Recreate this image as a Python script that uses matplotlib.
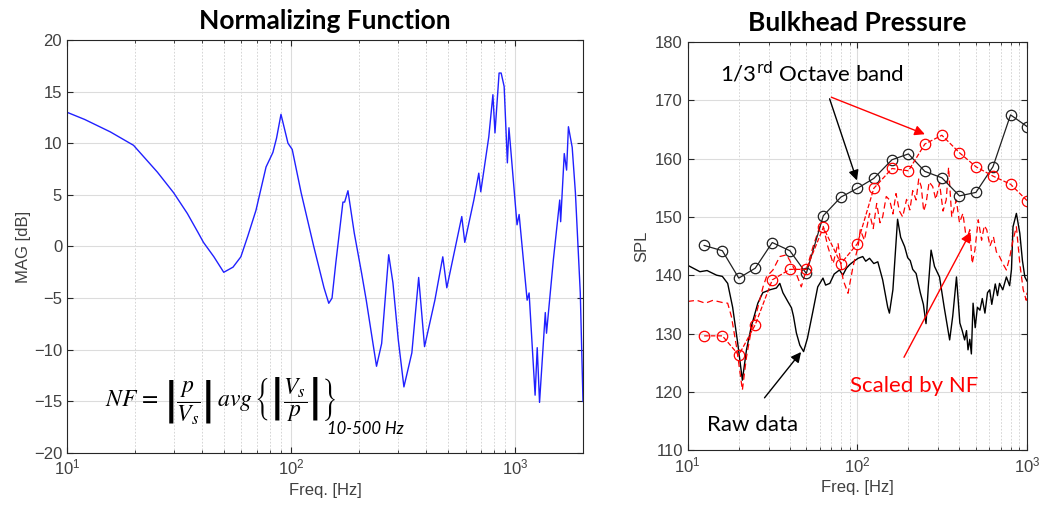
import numpy as np
import matplotlib
matplotlib.use('Agg')
import matplotlib.pyplot as plt

# Normalizing function (left)
nf_freq = [10, 12, 15.6, 19.8, 25.3, 29.9, 34.4, 38.3, 40.6, 45.2, 50, 55, 59.6, 64, 69.6, 77.2,
           82.8, 86, 90, 96.7, 101, 110.7, 126, 140, 147, 152, 158, 170, 173, 179, 191, 206,
           216, 240, 253, 272, 284, 300, 318, 345, 370, 393, 437, 474, 494, 576, 594, 652,
           686, 700, 760, 793, 810, 845, 863, 890, 920, 935, 1016, 1038, 1127, 1150, 1223,
           1250, 1280, 1358, 1375, 1475, 1575, 1590, 1650, 1690, 1722, 1790, 1850, 1945, 2000]
nf_mag = [13.0, 12.3, 11.1, 9.8, 7.2, 5.2, 3.2, 1.4, 0.4, -1.0, -2.5, -2.0, -1.0, 1.0, 3.5, 7.7,
          9.1, 10.5, 12.8, 10.0, 9.4, 5.2, 0.0, -4.0, -5.5, -5.0, -1.6, 4.3, 4.3, 5.4, 1.3, -2.6,
          -5.2, -11.6, -9.4, -0.8, -3.5, -9.0, -13.6, -10.3, -3.0, -9.7, -5.2, -1.0, -4.0, 2.9, 0.4, 4.5,
          7.1, 5.3, 10.6, 14.7, 11.0, 16.8, 16.8, 15.5, 8.1, 11.5, 2.1, 3.1, -5.2, -4.5, -14.4,
          -9.8, -15.1, -6.4, -8.4, -1.3, 4.5, 2.4, 9.0, 7.4, 11.6, 9.6, 5.2, -4.5, -15.0]

# 1/3 octave bands (right)
oct_freq = [12.5, 16, 20, 25, 31.5, 40, 50, 63, 80, 100, 125, 160, 200, 250, 315, 400, 500, 630, 800, 1000]
oct_raw = [145.1, 144.2, 139.5, 141.2, 145.6, 144.2, 140.3, 150.2, 153.4, 154.9, 156.6, 159.8,
           160.8, 157.8, 156.7, 153.6, 154.2, 158.6, 167.5, 165.5]
oct_scaled = [129.6, 129.6, 126.3, 131.5, 139.2, 141.0, 141.0, 148.2, 142.0, 145.4, 154.9, 158.3,
              157.9, 162.5, 164.0, 161.0, 158.6, 157.0, 155.6, 152.8]

# narrowband raw data
raw_freq = [10, 11.8, 13, 14.8, 16, 17.2, 18.4, 19.7, 21.0, 22.2, 23.7, 25.9, 27.7, 30.5, 33.3,
            34.9, 36.4, 38.9, 40.9, 42, 43.7, 45.8, 48.2, 50.8, 54.6, 58.4, 62.7, 65, 68.8, 73,
            78.5, 82, 86.2, 90, 94.5, 101, 107.6, 112, 118, 125, 132, 141, 151, 154.5, 162, 172.6,
            180, 190, 198, 205, 212, 222, 235, 245, 254, 262, 272, 285, 305, 325, 350, 365, 384,
            402, 415, 429, 440, 449, 460, 470, 481, 495, 510, 528, 545, 565, 585, 603, 620, 650,
            670, 689, 720, 756, 790, 810, 827, 866, 907, 940, 971, 1000]
raw_spl = [141.7, 140.6, 140.8, 140.0, 139.8, 138.6, 134.5, 128.4, 122.0, 127.2, 131.2, 135.2, 137.0,
           137.5, 137.8, 138.6, 137.0, 135.5, 134.4, 133.0, 130.1, 128.0, 126.9, 129.2, 133.7, 138.0,
           139.5, 138.3, 138.6, 140.2, 140.9, 140.0, 141.2, 141.8, 142.3, 142.9, 143.2, 142.4, 142.9,
           142.0, 142.3, 139.2, 134.5, 133.5, 137.5, 149.6, 146.5, 144.9, 143.0, 142.5, 141.0, 140.3,
           137.0, 135.0, 131.7, 138.0, 144.3, 141.5, 139.7, 134.5, 128.9, 133.0, 139.7, 131.8, 130.5,
           128.9, 130.5, 127.2, 129.0, 126.5, 135.2, 131.0, 134.5, 134.0, 136.0, 133.5, 137.0, 137.5,
           135.0, 138.5, 136.5, 138.6, 137.5, 139.7, 138.2, 141.0, 148.3, 150.6, 147.2, 142.5, 139.7,
           139.0]

# narrowband scaled by NF
scl_freq = [10, 11.3, 12.7, 14.1, 16.1, 17.2, 18.1, 19.4, 21.0, 22.2, 23.7, 25.4, 27.8, 29.1, 31.8,
            34.9, 38.3, 42.8, 46.7, 50.0, 54.8, 60, 62.7, 67.0, 72, 76.9, 82.4, 88.1, 94.3, 101,
            104, 110, 118, 124, 130, 136, 141, 148, 155, 162, 169, 177, 185, 195, 204, 212, 222,
            230, 238, 246, 254, 265, 278, 290, 305, 320, 334, 345, 360, 383, 400, 419, 440, 460,
            475, 493, 516, 540, 560, 579, 605, 634, 660, 689, 720, 756, 790, 827, 866, 907, 950,
            990, 1000]
scl_spl = [135.5, 135.7, 135.2, 135.7, 135.3, 135.2, 132.9, 127.7, 120.3, 126.0, 130.6, 133.5, 138.0,
           139.7, 140.9, 143.2, 143.5, 140.9, 138.0, 140.9, 144.9, 148.3, 148.6, 144.9, 142.0, 145.5,
           139.2, 136.9, 141.5, 144.9, 147.8, 146.0, 150.6, 148.0, 152.3, 149.0, 150.0, 153.5, 152.9,
           150.5, 154.0, 151.0, 150.0, 153.0, 151.2, 154.5, 152.9, 156.5, 155.2, 151.0, 152.3, 156.0,
           155.2, 153.0, 155.8, 151.0, 152.9, 158.5, 150.0, 152.9, 149.0, 150.6, 146.0, 147.8, 142.0,
           144.3, 149.5, 146.0, 148.5, 147.8, 145.0, 146.6, 144.0, 143.2, 142.0, 140.9, 143.0, 146.0,
           148.3, 142.0, 137.5, 135.7, 137.0]

fig = plt.figure(figsize=(10.42, 5.18), dpi=100)
ax1 = fig.add_axes([0.0643, 0.1255, 0.4952, 0.7973])
ax2 = fig.add_axes([0.660, 0.131, 0.3256, 0.788])

label_c = '#404040'
for ax in (ax1, ax2):
    ax.set_xscale('log')
    ax.set_axisbelow(True)
    ax.grid(True, which='major', color='#dcdcdc', lw=0.8)
    ax.grid(True, which='minor', axis='x', color='#cfcfcf', ls=(0, (2, 2)), lw=0.6)
    ax.tick_params(which='both', direction='in', top=True, right=True, colors='#262626',
                   labelcolor=label_c, labelsize=12)
    ax.tick_params(which='major', length=4)
    ax.tick_params(which='minor', length=2)
    for s in ax.spines.values():
        s.set_color('#262626')
        s.set_linewidth(0.8)

# left
ax1.plot(nf_freq, nf_mag, color='#2020ff', lw=1.0)
ax1.set_xlim(10, 2000)
ax1.set_ylim(-20, 20)
ax1.set_yticks(np.arange(-20, 21, 5))
ax1.set_xlabel('Freq. [Hz]', color=label_c, fontsize=12, family='Liberation Sans')
ax1.set_ylabel('MAG [dB]', color=label_c, fontsize=12, family='Liberation Sans', labelpad=2)
ax1.set_title('Normalizing Function', fontsize=19, fontweight='bold', family='Lato', pad=8)
ax1.text(14.8, -15.0,
         r'$NF\, =\, \left|\dfrac{p}{V_s}\right|\,avg\,\left\{\left|\dfrac{V_s}{p}\right|\right\}$',
         fontsize=17, va='center', ha='left', math_fontfamily='stix')
ax1.text(145, -17.7, '10-500 Hz', fontsize=12, style='italic', family='Lato', ha='left', va='center')

# right
ax2.plot(raw_freq, raw_spl, color='black', lw=1.0)
ax2.plot(scl_freq, scl_spl, color='red', lw=0.9, ls=(0, (5, 3)))
ax2.plot(oct_freq, oct_raw, '-o', color='#202020', lw=0.9, ms=7.5, mfc='none', mew=0.9)
ax2.plot(oct_freq, oct_scaled, '--o', color='red', lw=0.9, ms=7.5, mfc='none', mew=0.9)
ax2.set_xlim(10, 1000)
ax2.set_ylim(110, 180)
ax2.set_yticks(np.arange(110, 181, 10))
ax2.set_xlabel('Freq. [Hz]', color=label_c, fontsize=12, family='Liberation Sans')
ax2.set_ylabel('SPL', color=label_c, fontsize=12, family='Liberation Sans', labelpad=4)
ax2.set_title('Bulkhead Pressure', fontsize=19, fontweight='bold', family='Lato', pad=8)

ax2.text(15.4, 174.7, '1/3$^{\\mathrm{rd}}$ Octave band', fontsize=16, family='Lato',
         ha='left', va='center', math_fontfamily='dejavusans')
ax2.annotate('', xy=(100.6, 155.8), xytext=(67.8, 170.7),
             arrowprops=dict(arrowstyle='-|>', color='black', lw=1.0, mutation_scale=15))
ax2.annotate('', xy=(259, 164.0), xytext=(67.8, 170.7),
             arrowprops=dict(arrowstyle='-|>', color='red', lw=1.0, mutation_scale=15))
ax2.text(24.2, 114.3, 'Raw data', fontsize=16, family='Lato', ha='center', va='center')
ax2.annotate('', xy=(47.7, 127.2), xytext=(27.7, 118.6),
             arrowprops=dict(arrowstyle='-|>', color='black', lw=1.0, mutation_scale=15))
ax2.text(216, 121.0, 'Scaled by NF', fontsize=16, family='Lato', color='red', ha='center', va='center')
ax2.annotate('', xy=(473, 147.8), xytext=(185, 125.5),
             arrowprops=dict(arrowstyle='-|>', color='red', lw=1.0, mutation_scale=15))

for ax in (ax1, ax2):
    for lab in ax.get_xticklabels() + ax.get_yticklabels():
        lab.set_family('Liberation Sans')

fig.savefig('out.png', dpi=100)
